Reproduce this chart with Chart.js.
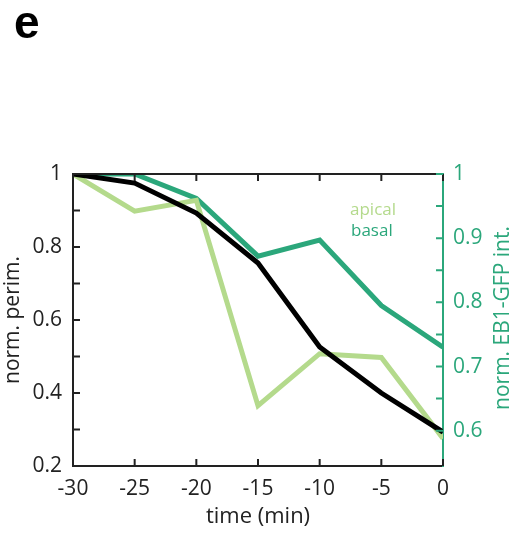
<!DOCTYPE html>
<html>
<head>
<meta charset="utf-8">
<script src="https://cdn.jsdelivr.net/npm/chart.js@4.4.1/dist/chart.umd.min.js"></script>
<style>
  body { margin: 0; background: #fff; }
  #wrap { width: 518px; height: 534px; }
</style>
</head>
<body>
<div id="wrap"><canvas id="chart" width="518" height="534"></canvas></div>
<script>
// time points (min)
const times = [-30, -25, -20, -15, -10, -5, 0];
// normalized perimeter (left axis)
const perim = [1, 0.975, 0.893, 0.756, 0.526, 0.4, 0.293];
// normalized EB1-GFP intensity (right axis)
const apical = [1, 0.942, 0.959, 0.639, 0.72, 0.714, 0.588];
const basal = [1, 1, 0.962, 0.872, 0.897, 0.795, 0.73];

const leftTicks = [0.2, 0.4, 0.6, 0.8, 1];
const leftMinor = [0.3, 0.5, 0.7, 0.9];
const rightTicks = [0.6, 0.7, 0.8, 0.9, 1];
const rightMinor = [0.65, 0.75, 0.85, 0.95];
const xTicks = [-30, -25, -20, -15, -10, -5, 0];

const BLACK = '#000000';
const LIGHT = '#b4da8c';
const DARK = '#2ba77b';
const AXIS = '#222222';
const FONT = '"Open Sans", "Noto Sans", sans-serif';

const toPts = (ys) => times.map((t, i) => ({ x: t, y: ys[i] }));

// MATLAB-style box: inward ticks, top border, legend text, panel letter
const extras = {
  id: 'extras',
  afterDraw(chart) {
    const { ctx, chartArea: a, scales } = chart;
    const x = scales.x, yl = scales.y, yr = scales.y2;
    ctx.save();
    ctx.lineWidth = 2;
    ctx.strokeStyle = AXIS;
    ctx.beginPath();
    ctx.moveTo(a.left, a.top); ctx.lineTo(a.right, a.top);
    xTicks.forEach(v => {
      const px = x.getPixelForValue(v);
      ctx.moveTo(px, a.bottom); ctx.lineTo(px, a.bottom - 7);
      ctx.moveTo(px, a.top); ctx.lineTo(px, a.top + 7);
    });
    leftTicks.concat(leftMinor).forEach(v => {
      const py = yl.getPixelForValue(v);
      ctx.moveTo(a.left, py); ctx.lineTo(a.left + 7, py);
    });
    ctx.stroke();
    ctx.strokeStyle = DARK;
    ctx.beginPath();
    rightTicks.concat(rightMinor).forEach(v => {
      const py = yr.getPixelForValue(v);
      ctx.moveTo(a.right, py); ctx.lineTo(a.right - 7, py);
    });
    ctx.stroke();

    // legend text
    ctx.font = '17px ' + FONT;
    ctx.textAlign = 'left';
    ctx.textBaseline = 'alphabetic';
    ctx.fillStyle = LIGHT;
    ctx.fillText(chart.data.datasets[1].label, 350, 215);
    ctx.fillStyle = DARK;
    ctx.fillText(chart.data.datasets[2].label, 351, 236);

    // right axis title, reading bottom to top
    ctx.save();
    ctx.translate(503, (a.top + a.bottom) / 2 - 2);
    ctx.rotate(-Math.PI / 2);
    ctx.textAlign = 'center';
    ctx.textBaseline = 'middle';
    ctx.font = '21px ' + FONT;
    ctx.fillStyle = DARK;
    ctx.fillText('norm. EB1-GFP int.', 0, 0);
    ctx.restore();

    // panel letter
    ctx.font = 'bold 46px "Liberation Sans", Arial, sans-serif';
    ctx.fillStyle = '#000';
    ctx.textAlign = 'left';
    ctx.fillText('e', 14, 38);
    ctx.restore();
  }
};

new Chart(document.getElementById('chart'), {
  type: 'line',
  data: {
    datasets: [
      { label: 'perim', data: toPts(perim), borderColor: BLACK, yAxisID: 'y' },
      { label: 'apical', data: toPts(apical), borderColor: LIGHT, yAxisID: 'y2' },
      { label: 'basal', data: toPts(basal), borderColor: DARK, yAxisID: 'y2' }
    ]
  },
  options: {
    responsive: false,
    animation: false,
    layout: { padding: { top: 174, left: 0, right: 0, bottom: 0 } },
    elements: {
      line: { borderWidth: 5, tension: 0, borderJoinStyle: 'miter' },
      point: { radius: 0 }
    },
    plugins: { legend: { display: false }, tooltip: { enabled: false } },
    scales: {
      x: {
        type: 'linear', min: -30, max: 0,
        afterBuildTicks: s => { s.ticks = xTicks.map(v => ({ value: v })); },
        afterFit: s => { s.height = 68; },
        grid: { display: false },
        border: { display: true, color: AXIS, width: 2 },
        ticks: { color: AXIS, font: { family: FONT, size: 21 }, padding: 2, maxRotation: 0, autoSkip: false },
        title: { display: true, text: 'time (min)', color: AXIS, font: { family: FONT, size: 22 }, padding: { top: 0 } }
      },
      y: {
        position: 'left', min: 0.2, max: 1,
        afterBuildTicks: s => { s.ticks = leftTicks.map(v => ({ value: v })); },
        afterFit: s => { s.width = 73; },
        grid: { display: false },
        border: { display: true, color: AXIS, width: 2 },
        ticks: { color: AXIS, font: { family: FONT, size: 21 }, padding: 3,
                 callback: v => String(+v.toFixed(2)) },
        title: { display: true, text: 'norm. perim.', color: AXIS, font: { family: FONT, size: 21 }, padding: 0 }
      },
      y2: {
        position: 'right', min: 0.545, max: 1,
        afterBuildTicks: s => { s.ticks = rightTicks.map(v => ({ value: v })); },
        afterFit: s => { s.width = 75; },
        grid: { display: false },
        border: { display: true, color: DARK, width: 2 },
        ticks: { color: DARK, font: { family: FONT, size: 21 }, padding: 2,
                 callback: v => String(+v.toFixed(2)) }
      }
    }
  },
  plugins: [extras]
});
</script>
</body>
</html>
